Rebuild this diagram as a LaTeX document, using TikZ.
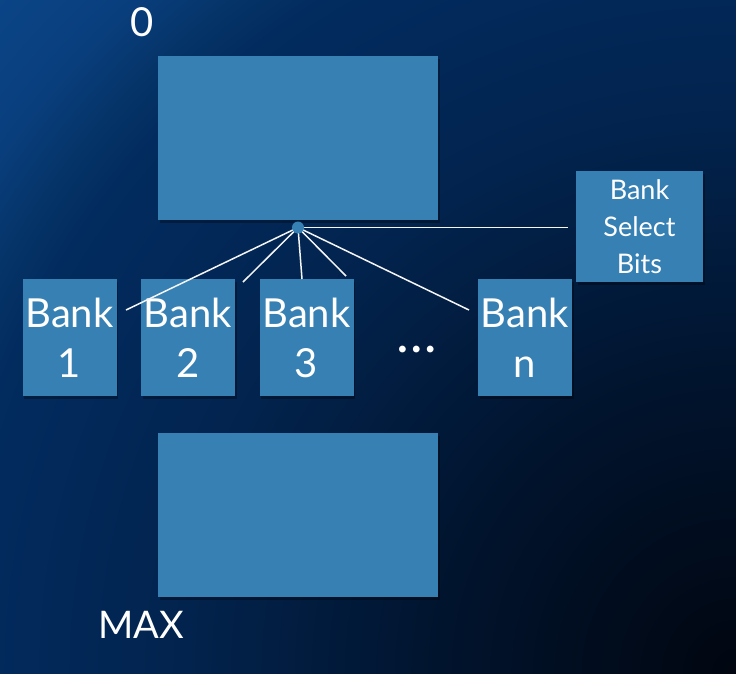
\documentclass[tikz,border=0pt]{standalone}
\usepackage{fontspec}
\setmainfont{Lato}
\usetikzlibrary{shadows}
\definecolor{boxblue}{HTML}{3680B3}
\pgfdeclareradialshading{bgshade}{\pgfpoint{0bp}{0bp}}{%
  color(0bp)=(rgb,255:red,1;green,6;blue,16);
  color(7.5bp)=(rgb,255:red,1;green,20;blue,46);
  color(13.75bp)=(rgb,255:red,2;green,35;blue,77);
  color(17bp)=(rgb,255:red,2;green,40;blue,88);
  color(19.6bp)=(rgb,255:red,2;green,43;blue,94);
  color(21bp)=(rgb,255:red,5;green,52;blue,104);
  color(22.5bp)=(rgb,255:red,9;green,62;blue,124);
  color(25bp)=(rgb,255:red,11;green,69;blue,135);
  color(50bp)=(rgb,255:red,11;green,69;blue,135)}
\tikzset{
  blk/.style={fill=boxblue, draw=none, inner sep=0pt,
    drop shadow={shadow xshift=1.5pt, shadow yshift=-2.5pt, opacity=0.3, fill=black}},
  bank/.style={blk, minimum width=94pt, minimum height=117pt, text=white, align=center,
    font=\fontsize{40}{50}\selectfont},
  wire/.style={draw=white!92!gray, line width=1.5pt},
  lbl/.style={text=white, inner sep=0pt}
}
\begin{document}
\begin{tikzpicture}[x=1pt,y=-1pt]
\begin{scope}
\clip (0,0) rectangle (736,673);
\shade[shading=bgshade] (-264,-327) rectangle (1736,1673);
\end{scope}
\useasboundingbox (0,0) rectangle (736,673);
% memory blocks
\node[blk, minimum width=280pt, minimum height=164pt] (top) at (298,138) {};
\node[blk, minimum width=280pt, minimum height=164pt] (bot) at (298,515) {};
\node[lbl, font=\fontsize{40}{48}\selectfont, anchor=base] (zero) at (142,36) {0};
\node[lbl, font=\fontsize{38}{46}\selectfont, anchor=base] (max) at (141,638) {MAX};
% banks
\node[bank] (b1) at (69.5,337.5) {Bank\\1};
\node[bank] (b2) at (188,337.5) {Bank\\2};
\node[bank] (b3) at (306.5,337.5) {Bank\\3};
\node[bank] (bn) at (525,337.5) {Bank\\n};
\node[lbl, font=\fontsize{54}{60}\selectfont, anchor=base] (dots) at (416.5,352) {\dots};
\node[blk, minimum width=127pt, minimum height=111pt, text=white, align=center,
  font=\fontsize{27}{37}\selectfont] (bsb) at (639.5,226.5) {Bank\\Select\\Bits};
% hub and wires
\coordinate (hub) at (298,227.5);
\coordinate (e1) at (126,310);
\coordinate (e2) at (243,282);
\coordinate (e3) at (302,279);
\coordinate (e4) at (346,276);
\coordinate (en) at (469,310);
\coordinate (es) at (568,227.5);
\draw[wire] (hub) -- (e1);
\draw[wire] (hub) -- (e2);
\draw[wire] (hub) -- (e3);
\draw[wire] (hub) -- (e4);
\draw[wire] (hub) -- (en);
\draw[wire] (hub) -- (es);
\node[circle, fill=boxblue, minimum size=12pt, inner sep=0pt] (dot) at (hub) {};
\end{tikzpicture}
\end{document}
